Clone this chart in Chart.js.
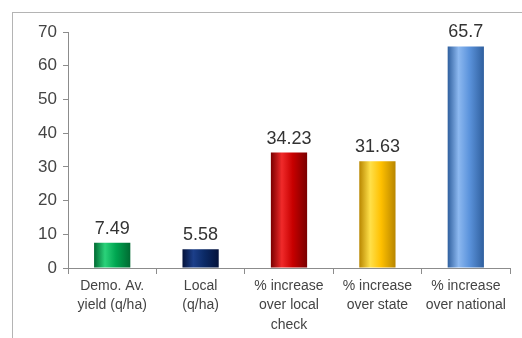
<!DOCTYPE html>
<html>
<head>
<meta charset="utf-8">
<script src="https://cdn.jsdelivr.net/npm/chart.js@4"></script>
<style>
    html, body { margin: 0; padding: 0; background: #fff; }
    #wrap { position: relative; width: 522px; height: 338px; overflow: hidden; }
    #frame {
        position: absolute; left: 12px; top: 12px; width: 520px; height: 340px;
        border-left: 1px solid #b4b4b4; border-top: 1px solid #b4b4b4;
    }
    canvas { position: absolute; left: 0; top: 0; }
</style>
</head>
<body>
<div id="wrap">
    <div id="frame"></div>
    <canvas id="yieldChart" width="522" height="338"></canvas>
</div>
<script>
// Categorias e valores
const categories = [
    ['Demo. Av.', 'yield (q/ha)'],
    ['Local', '(q/ha)'],
    ['% increase', 'over local', 'check'],
    ['% increase', 'over state'],
    ['% increase', 'over national']
];
const values = [7.49, 5.58, 34.23, 31.63, 65.7];
const valueLabels = ['7.49', '5.58', '34.23', '31.63', '65.7'];
const yTicks = [0, 10, 20, 30, 40, 50, 60, 70];

// Cores de cada barra: borda escura, brilho, meio
const barShades = [
    ['#006a32', '#2bd27a', '#00a651'],
    ['#04123a', '#1c3f8a', '#0b2a66'],
    ['#7a0000', '#f02a2a', '#c80000'],
    ['#b88600', '#ffe04a', '#ffc000'],
    ['#2f5f9e', '#8cb8f0', '#5b93dc']
];

const BAR_PCT = 0.41;

// Gradiente horizontal para dar efeito de cilindro
function barGradient(context) {
    const chart = context.chart;
    const xScale = chart.scales.x;
    if (!chart.chartArea || !xScale) return barShades[context.dataIndex][2];
    const i = context.dataIndex;
    const cx = xScale.getPixelForValue(i);
    const w = (xScale.width / categories.length) * BAR_PCT;
    const g = chart.ctx.createLinearGradient(cx - w / 2, 0, cx + w / 2, 0);
    const s = barShades[i];
    g.addColorStop(0, s[0]);
    g.addColorStop(0.3, s[1]);
    g.addColorStop(0.6, s[2]);
    g.addColorStop(1, s[0]);
    return g;
}

// Escreve o valor acima de cada barra
const valueLabelPlugin = {
    id: 'valueLabels',
    afterDatasetsDraw(chart) {
        const ctx = chart.ctx;
        const meta = chart.getDatasetMeta(0);
        ctx.save();
        ctx.font = '18px "Liberation Sans", Arial, sans-serif';
        ctx.fillStyle = '#333';
        ctx.textAlign = 'center';
        ctx.textBaseline = 'bottom';
        meta.data.forEach((bar, i) => {
            ctx.fillText(valueLabels[i], bar.x, bar.y - 5);
        });
        ctx.restore();
    }
};

new Chart(document.getElementById('yieldChart'), {
    type: 'bar',
    data: {
        labels: categories,
        datasets: [{
            data: values,
            backgroundColor: barGradient,
            borderWidth: 0,
            categoryPercentage: 1,
            barPercentage: BAR_PCT
        }]
    },
    plugins: [valueLabelPlugin],
    options: {
        responsive: false,
        animation: false,
        events: [],
        layout: { padding: { top: 32, right: 12, bottom: 0, left: 0 } },
        plugins: {
            legend: { display: false },
            tooltip: { enabled: false }
        },
        scales: {
            x: {
                offset: true,
                afterFit(scale) { scale.height = 70; },
                border: { color: '#8c8c8c', width: 1 },
                grid: {
                    offset: true,
                    drawOnChartArea: false,
                    drawTicks: true,
                    tickLength: 6,
                    color: '#8c8c8c'
                },
                ticks: {
                    color: '#444',
                    maxRotation: 0,
                    autoSkip: false,
                    padding: 2,
                    font: { family: '"Liberation Sans", Arial, sans-serif', size: 14, lineHeight: 1.4 }
                }
            },
            y: {
                min: 0,
                max: 70,
                afterFit(scale) { scale.width = 68; },
                afterBuildTicks(scale) { scale.ticks = yTicks.map(v => ({ value: v })); },
                border: { color: '#8c8c8c', width: 1 },
                grid: {
                    drawOnChartArea: false,
                    drawTicks: true,
                    tickLength: 5,
                    color: '#8c8c8c'
                },
                ticks: {
                    color: '#444',
                    padding: 6,
                    font: { family: '"Liberation Sans", Arial, sans-serif', size: 17 }
                }
            }
        }
    }
});
</script>
</body>
</html>
